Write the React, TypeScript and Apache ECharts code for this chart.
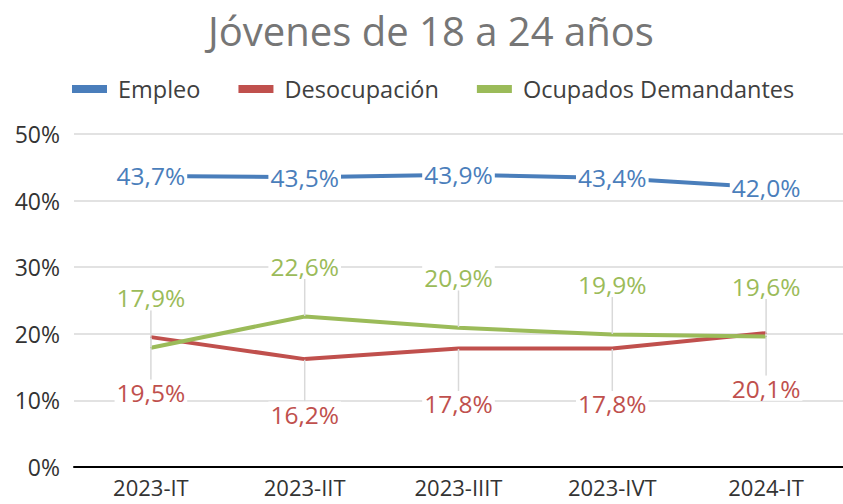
import React, { useEffect, useRef } from "react";
import * as echarts from "echarts";

const categories = ["2023-IT", "2023-IIT", "2023-IIIT", "2023-IVT", "2024-IT"];
const empleo = [43.7, 43.5, 43.9, 43.4, 42.0];
const desocupacion = [19.5, 16.2, 17.8, 17.8, 20.1];
const ocupadosDemandantes = [17.9, 22.6, 20.9, 19.9, 19.6];
const seriesNames = ["Empleo", "Desocupación", "Ocupados Demandantes"];
const yTicks = [0, 10, 20, 30, 40, 50];

const FONT = "'Open Sans', 'Noto Sans', sans-serif";
const fmt = (v: number) => `${v.toFixed(1).replace(".", ",")}%`;

export default function App() {
  const ref = useRef<HTMLDivElement>(null);
  useEffect(() => {
    if (!ref.current) return;
    const chart = echarts.init(ref.current, undefined, { renderer: "svg" });
    const leader = { show: true, lineStyle: { color: "#d9d9d9", width: 1.5 } };
    const labelBase = (color: string) => ({
      show: true,
      position: "inside",
      formatter: (p: any) => fmt(p.value),
      fontFamily: FONT,
      fontSize: 24.5,
      color,
      backgroundColor: "#ffffff",
      padding: [0, 2],
    });
    chart.setOption({
      animation: false,
      backgroundColor: "#ffffff",
      title: {
        text: "Jóvenes de 18 a 24 años",
        left: 208,
        top: 10,
        padding: 0,
        textStyle: { fontFamily: FONT, fontSize: 40, fontWeight: "normal", color: "#767676" },
      },
      legend: {
        data: seriesNames,
        top: 72,
        left: 67,
        icon: "rect",
        itemWidth: 35,
        itemHeight: 8,
        itemGap: 38,
        textStyle: { fontFamily: FONT, fontSize: 23.5, color: "#404040", padding: [0, 0, 0, 6] },
      },
      grid: { left: 74, top: 134, width: 778, height: 333, containLabel: false },
      xAxis: {
        type: "category",
        data: categories,
        boundaryGap: true,
        axisTick: { show: false },
        axisLine: { lineStyle: { color: "#000000", width: 2 } },
        axisLabel: { fontFamily: FONT, fontSize: 22, color: "#333333", margin: 9 },
        splitLine: { show: false },
      },
      yAxis: {
        type: "value",
        min: yTicks[0],
        max: yTicks[yTicks.length - 1],
        interval: 10,
        axisLine: { show: false },
        axisTick: { show: false },
        axisLabel: { fontFamily: FONT, fontSize: 23, color: "#333333", formatter: "{value}%", margin: 14 },
        splitLine: { lineStyle: { color: "#d9d9d9", width: 1.5 } },
      },
      series: [
        {
          name: seriesNames[0],
          type: "line",
          data: empleo,
          color: "#4a7ebb",
          symbol: "circle",
          symbolSize: 1,
          lineStyle: { width: 4, color: "#4a7ebb" },
          z: 3,
          label: labelBase("#4a7ebb"),
        },
        {
          name: seriesNames[1],
          type: "line",
          data: desocupacion,
          color: "#c0504d",
          symbol: "circle",
          symbolSize: 1,
          lineStyle: { width: 4, color: "#c0504d" },
          z: 2,
          label: labelBase("#c0504d"),
          labelLayout: { dy: 55 },
          labelLine: leader,
        },
        {
          name: seriesNames[2],
          type: "line",
          data: ocupadosDemandantes,
          color: "#9bbb59",
          symbol: "circle",
          symbolSize: 1,
          lineStyle: { width: 4, color: "#9bbb59" },
          z: 2,
          label: labelBase("#9bbb59"),
          labelLayout: { dy: -50 },
          labelLine: leader,
        },
      ],
    });
    return () => chart.dispose();
  }, []);
  return <div ref={ref} style={{ width: 843, height: 504, position: "absolute", left: 0, top: 0 }} />;
}
